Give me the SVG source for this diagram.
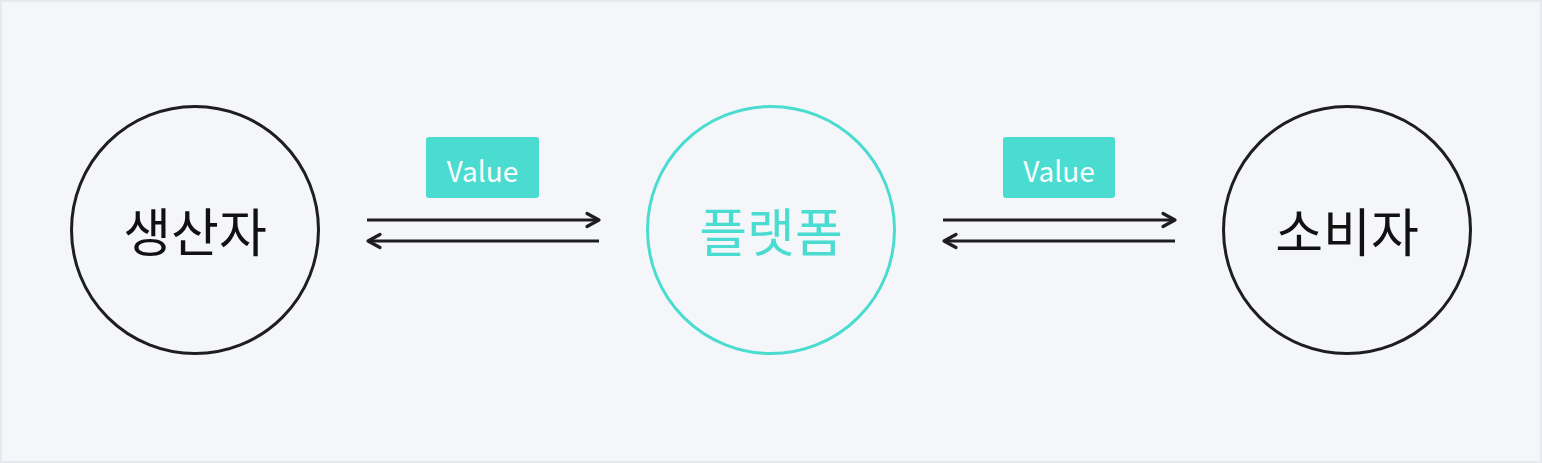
<svg xmlns="http://www.w3.org/2000/svg" width="1542" height="463" viewBox="0 0 1542 463">
<style>
.node{fill:none;stroke-width:3}
.dark{stroke:#1e1e1e}
.teal{stroke:#4adcd1}
.lbl{font-family:"Noto Sans CJK KR",sans-serif;font-size:52px;font-weight:400;text-anchor:middle;dominant-baseline:central}
.conn line{stroke:#1e1e1e;stroke-width:3.2}
.conn polyline{fill:none;stroke:#1e1e1e;stroke-width:3.2;stroke-linecap:round;stroke-linejoin:round}
.tag rect{fill:#4adcd1}
.tag text{font-family:"Noto Sans CJK KR","Noto Sans",sans-serif;font-size:28px;font-weight:400;fill:#ffffff;text-anchor:middle}
</style>
<rect x="1" y="1" width="1540" height="461" fill="#f5f6fa" stroke="#e8e9ef" stroke-width="2"/>
<g id="producer">
<circle class="node dark" cx="195" cy="230" r="123.5"/>
<text class="lbl" x="195" y="229" fill="#111111">생산자</text>
</g>
<g id="platform">
<circle class="node teal" cx="771" cy="230" r="123.5"/>
<text class="lbl" x="771" y="229" fill="#4adcd1">플랫폼</text>
</g>
<g id="consumer">
<circle class="node dark" cx="1347" cy="230" r="123.5"/>
<text class="lbl" x="1347" y="229" fill="#111111">소비자</text>
</g>
<g id="connectors" class="conn">
<line x1="367" y1="220" x2="599" y2="220"/>
<polyline points="587,213.5 599,220 587,226.5"/>
<line x1="369" y1="241" x2="599" y2="241"/>
<polyline points="380,234.5 368,241 380,247.5"/>
<line x1="943" y1="220" x2="1175" y2="220"/>
<polyline points="1163,213.5 1175,220 1163,226.5"/>
<line x1="945" y1="241" x2="1175" y2="241"/>
<polyline points="956,234.5 944,241 956,247.5"/>
</g>
<g id="value1" class="tag">
<rect x="426" y="137" width="113" height="61" rx="3"/>
<text x="482.5" y="182">Value</text>
</g>
<g id="value2" class="tag">
<rect x="1003" y="137" width="112" height="61" rx="3"/>
<text x="1059" y="182">Value</text>
</g>
</svg>
